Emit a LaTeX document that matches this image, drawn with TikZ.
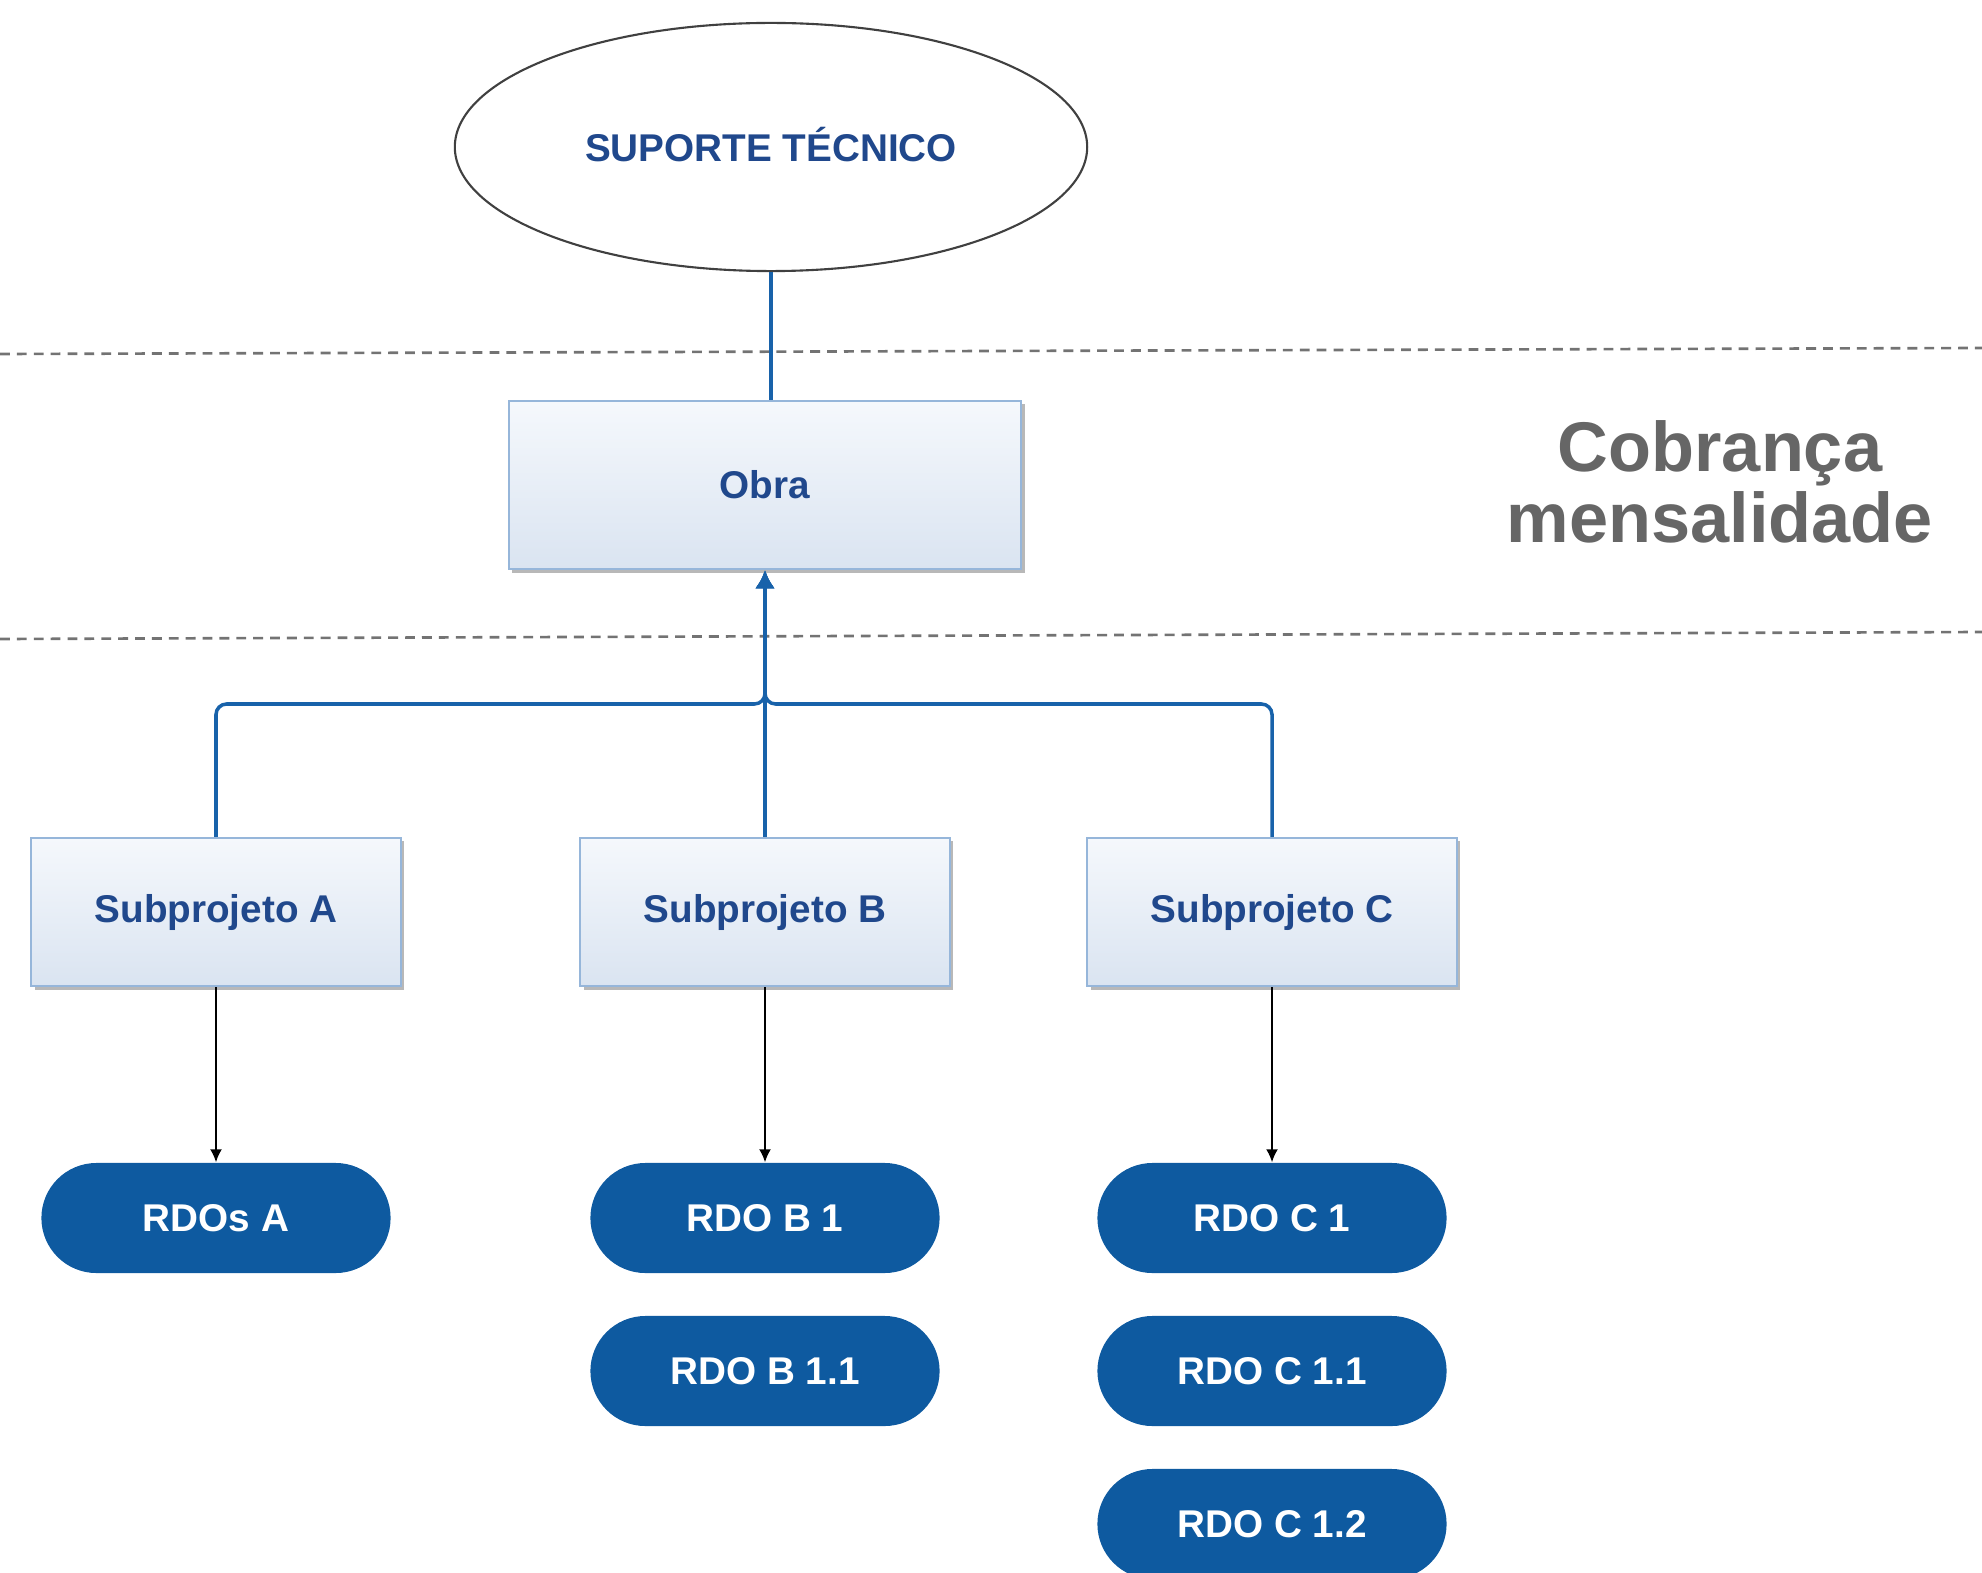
\documentclass[tikz,border=0pt]{standalone}
\usepackage{fontspec}
\setmainfont{Liberation Sans}
\usetikzlibrary{shapes.geometric,shadows,arrows.meta}

\definecolor{txtblue}{RGB}{32,72,140}
\definecolor{boxline}{RGB}{150,182,218}
\definecolor{boxtop}{RGB}{245,248,252}
\definecolor{boxbot}{RGB}{218,228,241}
\definecolor{pillblue}{RGB}{14,90,160}
\definecolor{linkblue}{RGB}{24,98,170}
\definecolor{cobgray}{RGB}{102,102,102}

\begin{document}
\begin{tikzpicture}[x=0.01cm,y=-0.01cm,
    box/.style={draw=boxline, line width=0.6pt, top color=boxtop, bottom color=boxbot,
        text=txtblue, font=\bfseries\fontsize{11}{13}\selectfont,
        minimum width=3.69cm, minimum height=1.48cm,
        drop shadow={shadow xshift=1pt, shadow yshift=-1pt, fill=black!35, opacity=.8}},
    pill/.style={fill=pillblue, text=white, rounded corners=0.55cm,
        minimum width=3.49cm, minimum height=1.1cm, font=\bfseries\fontsize{11}{13}\selectfont},
    link/.style={draw=linkblue, line width=1pt},
    feed/.style={draw=black, line width=0.5pt, -{Latex[length=3.7pt,width=3.4pt]}},
    sep/.style={draw=black!55, line width=0.75pt, dash pattern=on 2.8pt off 2pt}]
    \clip (0,0) rectangle (1982,1573);

    \draw[sep] (0,354) -- (1982,348);
    \draw[sep] (0,639) -- (1982,632);

    \node[ellipse, draw=black!75, line width=0.6pt, minimum width=6.32cm, minimum height=2.48cm,
        text height=8.5pt, text depth=0.5pt,
        text=txtblue, font=\bfseries\fontsize{11}{13}\selectfont] (sup) at (771,147) {SUPORTE TÉCNICO};

    \node[box, minimum width=5.12cm, minimum height=1.68cm] (obra) at (765,485) {Obra};

    \node[box] (subA) at (216,912) {Subprojeto A};
    \node[box] (subB) at (765,912) {Subprojeto B};
    \node[box] (subC) at (1272,912) {Subprojeto C};

    \node[pill] (rdoA) at (216,1218) {RDOs A};
    \node[pill] (rdoB1) at (765,1218) {RDO B 1};
    \node[pill] (rdoB2) at (765,1371) {RDO B 1.1};
    \node[pill] (rdoC1) at (1272,1218) {RDO C 1};
    \node[pill] (rdoC2) at (1272,1371) {RDO C 1.1};
    \node[pill] (rdoC3) at (1272,1524) {RDO C 1.2};

    \node[text=cobgray, align=center, font=\bfseries\fontsize{20}{20}\selectfont] (cob) at (1720,482) {Cobrança\\mensalidade};

    \draw[link] (sup.south) -- (sup.south |- obra.north);

    \coordinate (bus) at (765,704);
    \draw[link, rounded corners=3pt, -{Latex[length=5.2pt,width=5.6pt]}] (subA.north) |- (bus) -- (obra.south);
    \draw[link, rounded corners=3pt, -{Latex[length=5.2pt,width=5.6pt]}] (subC.north) |- (bus) -- (obra.south);
    \draw[link, -{Latex[length=5.2pt,width=5.6pt]}] (subB.north) -- (obra.south);

    \draw[feed] (subA.south) -- (rdoA.north);
    \draw[feed] (subB.south) -- (rdoB1.north);
    \draw[feed] (subC.south) -- (rdoC1.north);

\end{tikzpicture}
\end{document}
